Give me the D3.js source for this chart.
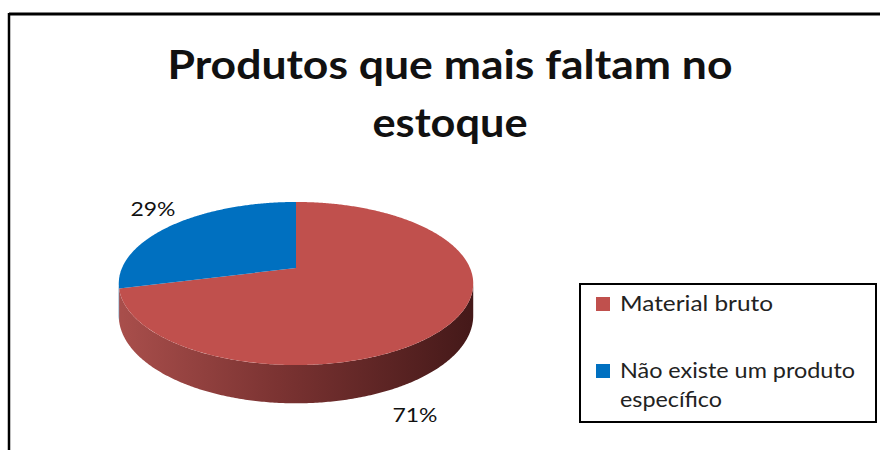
<!DOCTYPE html>
<html>
<head>
<meta charset="utf-8">
<script src="https://cdn.jsdelivr.net/npm/d3@7"></script>
<style>
  body { margin: 0; background: #fff; }
  svg text { font-family: Lato, "Open Sans", sans-serif; fill: #111; }
</style>
</head>
<body>
<svg id="chart" width="880" height="450"></svg>
<script>
// chart data
const categories = ["Material bruto", "Não existe um produto específico"];
const values = [71, 29];
const pctLabels = ["71%", "29%"];
const legendLines = [["Material bruto"], ["Não existe um produto", "específico"]];
const titleLines = ["Produtos que mais faltam no", "estoque"];

const colors = ["#C0504D", "#0070C0"];

const svg = d3.select("svg#chart");

// outer frame (only top and left visible)
svg.append("line").attr("x1", 9).attr("y1", 14).attr("x2", 880).attr("y2", 14)
  .attr("stroke", "#000").attr("stroke-width", 3);
svg.append("line").attr("x1", 9).attr("y1", 13).attr("x2", 9).attr("y2", 450)
  .attr("stroke", "#000").attr("stroke-width", 2.5);

// title
svg.selectAll("text.title")
  .data(titleLines)
  .enter()
  .append("text")
  .attr("class", "title")
  .attr("x", 450)
  .attr("y", (d, i) => 79 + i * 58)
  .attr("text-anchor", "middle")
  .style("font-size", "40px")
  .style("font-weight", "bold")
  .attr("textLength", (d, i) => i === 0 ? 565 : 155)
  .attr("lengthAdjust", "spacingAndGlyphs")
  .text(d => d);

// 3d pie with a bit of perspective
const cx = 296, cy = 268, sx = 174, sy = 78.6, persp = 0.19, depth = 31;

function proj(a, r, bottom) {
  const u = r * Math.sin(a), v = -r * Math.cos(a);
  const k = 1 - persp * v;
  let y = cy + sy * v / k;
  if (bottom) y += depth / k;
  return [cx + sx * u / k, y];
}

function arcPoints(a0, a1, bottom) {
  const n = Math.max(2, Math.ceil((a1 - a0) / 0.01));
  return d3.range(n + 1).map(i => proj(a0 + (a1 - a0) * i / n, 1, bottom));
}

const pie = d3.pie().sort(null).value(d => d)(values);
const line = d3.line();

// side gradient
const defs = svg.append("defs");
const grad = defs.append("linearGradient")
  .attr("id", "sideRed")
  .attr("gradientUnits", "userSpaceOnUse")
  .attr("x1", cx - sx).attr("x2", cx + sx).attr("y1", 0).attr("y2", 0);
grad.append("stop").attr("offset", 0).attr("stop-color", "#A84E4B");
grad.append("stop").attr("offset", 0.45).attr("stop-color", "#7B3332");
grad.append("stop").attr("offset", 1).attr("stop-color", "#451919");

const sideColors = ["url(#sideRed)", "#004C85"];
const visA = Math.acos(-persp), visB = 2 * Math.PI - Math.acos(-persp);

const g = svg.append("g");

// sides (front only)
g.selectAll("path.side")
  .data(pie)
  .enter()
  .append("path")
  .attr("class", "side")
  .attr("d", d => {
    const a0 = Math.max(d.startAngle, visA), a1 = Math.min(d.endAngle, visB);
    if (a1 <= a0) return null;
    const top = arcPoints(a0, a1, false);
    const bot = arcPoints(a0, a1, true).reverse();
    return line(top.concat(bot)) + "Z";
  })
  .attr("fill", (d, i) => sideColors[i]);

// top faces
g.selectAll("path.top")
  .data(pie)
  .enter()
  .append("path")
  .attr("class", "top")
  .attr("d", d => line([proj(0, 0, false)].concat(arcPoints(d.startAngle, d.endAngle, false))) + "Z")
  .attr("fill", (d, i) => colors[i]);

// percent labels
const labelPos = [[415, 422], [153, 216]];
svg.selectAll("text.pct")
  .data(pctLabels)
  .enter()
  .append("text")
  .attr("class", "pct")
  .attr("x", (d, i) => labelPos[i][0])
  .attr("y", (d, i) => labelPos[i][1])
  .attr("text-anchor", "middle")
  .style("font-size", "20px")
  .attr("textLength", 45)
  .attr("lengthAdjust", "spacingAndGlyphs")
  .text(d => d);

// legend
const legend = svg.append("g");
legend.append("rect")
  .attr("x", 580).attr("y", 284).attr("width", 296).attr("height", 138)
  .attr("fill", "#fff").attr("stroke", "#000").attr("stroke-width", 2);

const itemY = [311, 378];
const lineWidths = [[153], [235, 102]];
const items = legend.selectAll("g.item")
  .data(categories)
  .enter()
  .append("g")
  .attr("class", "item");

items.append("rect")
  .attr("x", 596)
  .attr("y", (d, i) => itemY[i] - 14)
  .attr("width", 14).attr("height", 14)
  .attr("fill", (d, i) => colors[i]);

items.each(function(d, i) {
  d3.select(this).selectAll("text")
    .data(legendLines[i])
    .enter()
    .append("text")
    .attr("x", 620)
    .attr("y", (t, j) => itemY[i] + j * 29)
    .style("font-size", "21px")
    .style("fill", "#222")
    .attr("textLength", (t, j) => lineWidths[i][j])
    .attr("lengthAdjust", "spacingAndGlyphs")
    .text(t => t);
});
</script>
</body>
</html>
